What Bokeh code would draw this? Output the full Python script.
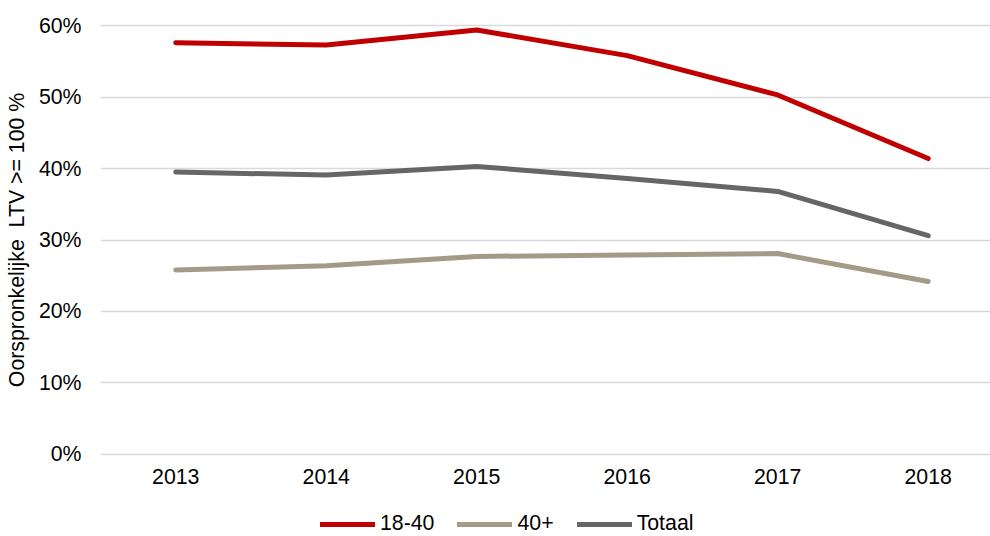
from bokeh.plotting import figure
from bokeh.layouts import column
from bokeh.models import Range1d, FixedTicker, NumeralTickFormatter, Legend, LegendItem, CustomJSTickFormatter
from bokeh.embed import file_html
from bokeh.resources import INLINE

years = [2013, 2014, 2015, 2016, 2017, 2018]
s_18_40 = [0.576, 0.573, 0.594, 0.558, 0.503, 0.414]
s_40plus = [0.258, 0.264, 0.277, 0.279, 0.281, 0.242]
s_totaal = [0.395, 0.391, 0.403, 0.386, 0.368, 0.306]
series_names = ["18-40", "40+", "Totaal"]
series_colors = ["#C00000", "#A39B87", "#666666"]
y_ticks = [0, 0.1, 0.2, 0.3, 0.4, 0.5, 0.6]
y_label = "Oorspronkelijke\u00a0\u00a0LTV >= 100 %"

FONT = "Liberation Sans"
FS = "21.3px"

p = figure(width=990, height=496, output_backend="svg", toolbar_location=None,
           x_range=Range1d(2012.5, 2018.414), y_range=Range1d(-0.003, 0.603),
           min_border_left=100, min_border_right=0, min_border_top=23, min_border_bottom=40)
p.outline_line_color = None
p.background_fill_color = "white"
p.border_fill_color = "white"

p.xgrid.grid_line_color = None
p.ygrid.grid_line_color = "#D9D9D9"
p.ygrid.grid_line_width = 1.3
p.yaxis.ticker = FixedTicker(ticks=y_ticks)
p.xaxis.ticker = FixedTicker(ticks=years)
p.yaxis.formatter = NumeralTickFormatter(format="0%")
p.xaxis.formatter = CustomJSTickFormatter(code="return tick.toFixed(0);")

for ax in (p.xaxis, p.yaxis):
    ax.axis_line_color = None
    ax.major_tick_line_color = None
    ax.minor_tick_line_color = None
    ax.major_tick_out = 0
    ax.major_tick_in = 0
    ax.minor_tick_out = 0
    ax.minor_tick_in = 0
    ax.major_label_text_font = FONT
    ax.major_label_text_font_size = FS
    ax.major_label_text_color = "#000000"
p.xaxis.major_label_standoff = 12
p.yaxis.major_label_standoff = 19
p.yaxis.axis_label = y_label
p.yaxis.axis_label_text_font = FONT
p.yaxis.axis_label_text_font_size = FS
p.yaxis.axis_label_text_font_style = "normal"
p.yaxis.axis_label_text_color = "#000000"
p.yaxis.axis_label_standoff = 7

for vals, col in zip([s_18_40, s_40plus, s_totaal], series_colors):
    p.line(years, vals, line_color=col, line_width=5, line_cap="round", line_join="round")

# Legend strip below the chart (frame is aligned with the main chart's frame)
lg = figure(width=990, height=40, output_backend="svg", toolbar_location=None,
            x_range=Range1d(0, 1), y_range=Range1d(0, 1),
            x_axis_type=None, y_axis_type=None,
            min_border_left=100, min_border_right=0, min_border_top=0, min_border_bottom=0)
lg.outline_line_color = None
lg.xgrid.grid_line_color = None
lg.ygrid.grid_line_color = None
items = []
for name, col in zip(series_names, series_colors):
    r = lg.line([-10, -9], [-10, -9], line_color=col, line_width=5, line_cap="round")
    items.append(LegendItem(label=name, renderers=[r]))
legend = Legend(items=items, orientation="horizontal", location=(220, 0),
                label_text_font=FONT, label_text_font_size=FS, label_text_color="#000000",
                glyph_width=55, glyph_height=20, label_standoff=5, spacing=23,
                padding=0, margin=0, border_line_color=None, background_fill_alpha=0)
lg.add_layout(legend, "center")

layout = column(p, lg, spacing=0)
open("out.html", "w").write(file_html(layout, INLINE))
